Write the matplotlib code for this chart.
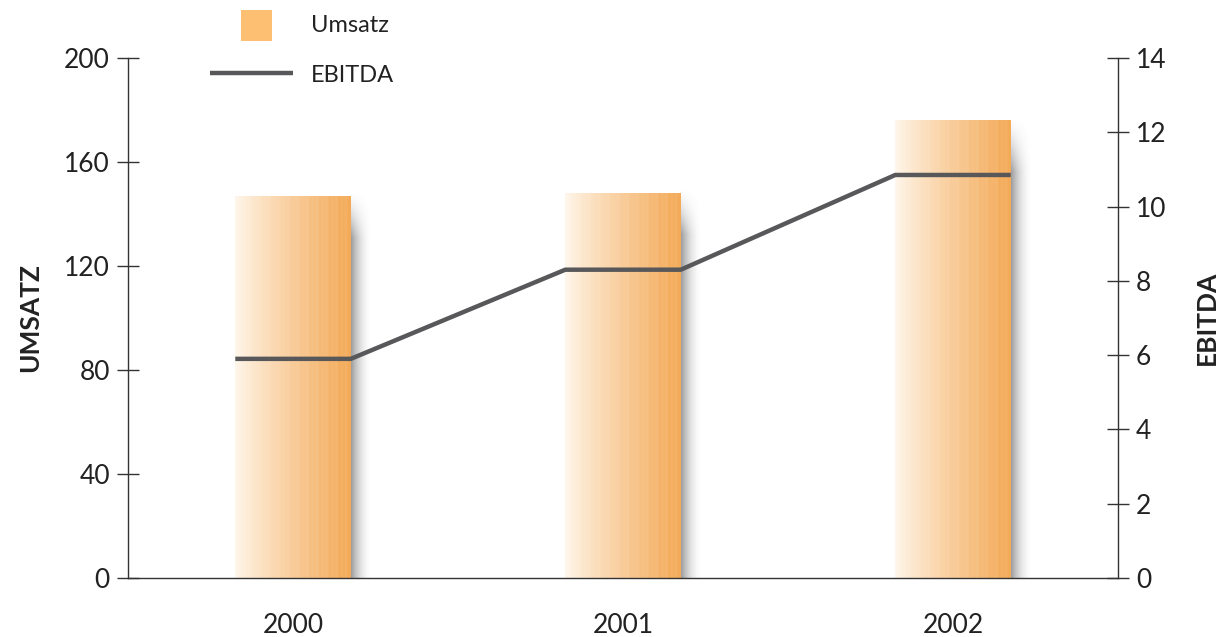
import numpy as np
import matplotlib.pyplot as plt
from matplotlib.patches import Rectangle
from matplotlib.lines import Line2D

plt.rcParams['font.family'] = ['Lato', 'DejaVu Sans']

years = ['2000', '2001', '2002']
umsatz = [147, 148, 176]
ebitda = [5.9, 8.3, 10.85]

bar_w = 0.35
axis_col = '#333333'
line_col = '#58585a'
text_col = '#222222'

fig = plt.figure(figsize=(12.24, 6.37), dpi=100)
ax = fig.add_axes([0.1046, 0.0926, 0.8088, 0.8164])
ax2 = ax.twinx()

x = np.arange(len(years))

# gradient image (light on the left, orange on the right) with thin vertical streaks
cols = np.linspace(0, 1, 240)
streak = 0.07 * np.sin(cols * 113) * np.sin(cols * 37) * cols
t = np.clip(cols ** 0.85 + streak, 0, 1)
c0 = np.array([1.0, 0.97, 0.93])
c1 = np.array([0.955, 0.67, 0.35])
grad = (c0[None, :] * (1 - t[:, None]) + c1[None, :] * t[:, None])[None, :, :]

# shadow alpha: fades to the right and towards the top (row 0 = bottom)
hx = np.linspace(1.0, 0.0, 60) ** 2
r = np.linspace(0, 1, 200)
vy = np.clip((1 - r) / 0.12, 0, 1) ** 1.5
shadow = np.zeros((200, 60, 4))
shadow[..., :3] = 0.3
shadow[..., 3] = 0.55 * vy[:, None] * hx[None, :]

bars = ax.bar(x, umsatz, width=bar_w, color='none', edgecolor='none', zorder=2)
for b in bars:
    x0, y0 = b.get_x(), b.get_y()
    w, h = b.get_width(), b.get_height()
    ax.imshow(shadow, extent=(x0 + w, x0 + w + 0.065, y0, y0 + h + 2),
              aspect='auto', zorder=1, interpolation='bilinear', origin='lower')
    im = ax.imshow(grad, extent=(x0, x0 + w, y0, y0 + h), aspect='auto',
                   zorder=2, interpolation='bilinear')
    im.set_clip_path(b)

# EBITDA: flat across each bar, joined by slopes
lx, ly = [], []
for xi, v in zip(x, ebitda):
    lx += [xi - bar_w / 2, xi + bar_w / 2]
    ly += [v, v]
ax2.plot(lx, ly, color=line_col, linewidth=3.2, solid_capstyle='butt', zorder=5)

ax.set_xlim(-0.5, 2.5)
ax.set_ylim(0, 200)
ax2.set_ylim(0, 14)

for a in (ax, ax2):
    a.spines['top'].set_visible(False)
    for s in a.spines.values():
        s.set_color(axis_col)
        s.set_linewidth(1.0)
ax.spines['right'].set_visible(False)
ax2.spines['left'].set_visible(False)
ax2.spines['bottom'].set_visible(False)

ax.set_yticks(np.arange(0, 201, 40))
ax2.set_yticks(np.arange(0, 15, 2))
ax.set_xticks(x)
ax.set_xticklabels(years)
ax.tick_params(axis='x', length=0, pad=25, labelsize=19, colors=text_col)
ax.tick_params(axis='y', direction='inout', length=16, width=1, color=axis_col,
               labelsize=19, labelcolor=text_col, pad=5)
ax2.tick_params(axis='y', direction='inout', length=16, width=1, color=axis_col,
                labelsize=19, labelcolor=text_col, pad=5)

ax.set_ylabel('UMSATZ', fontsize=19, fontweight='bold', color=text_col, labelpad=16)
ax2.set_ylabel('EBITDA', fontsize=19, fontweight='bold', color=text_col,
               rotation=90, labelpad=20)

# legend drawn in figure coordinates
fig.add_artist(Rectangle((241 / 1224, 1 - 41 / 637), 31 / 1224, 31 / 637,
                         transform=fig.transFigure, color='#fdbf71', lw=0))
fig.add_artist(Line2D([210 / 1224, 293 / 1224], [1 - 73 / 637, 1 - 73 / 637],
                      transform=fig.transFigure, color=line_col, lw=3.2,
                      solid_capstyle='butt'))
fig.text(311 / 1224, 1 - 25 / 637, 'Umsatz', fontsize=17, color=text_col, va='center')
fig.text(311 / 1224, 1 - 76 / 637, 'EBITDA', fontsize=17, color=text_col, va='center')

fig.savefig('out.png', dpi=100)
